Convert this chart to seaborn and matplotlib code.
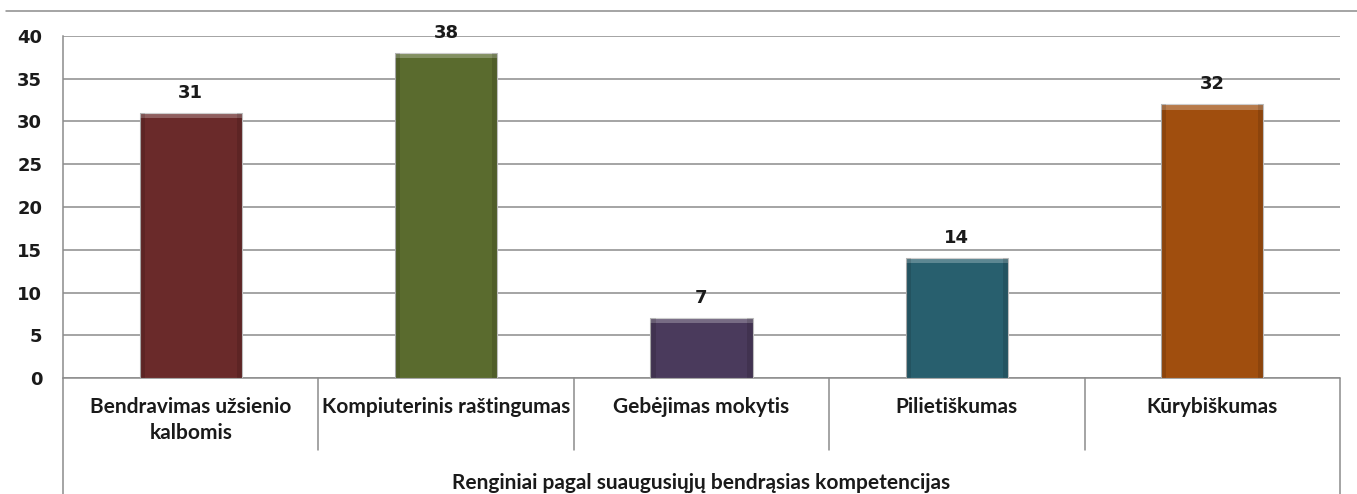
import matplotlib
matplotlib.use("Agg")
import matplotlib.pyplot as plt
import matplotlib.transforms as mtransforms
from matplotlib.lines import Line2D
from matplotlib.patches import Rectangle
import seaborn as sns

categories = ["Bendravimas užsienio\nkalbomis", "Kompiuterinis raštingumas",
              "Gebėjimas mokytis", "Pilietiškumas", "Kūrybiškumas"]
values = [31, 38, 7, 14, 32]
colors = ["#6A2A2A", "#5A6B2E", "#4A3A5C", "#285F6E", "#A04E0E"]
yticks = [0, 5, 10, 15, 20, 25, 30, 35, 40]
xtitle = "Renginiai pagal suaugusiųjų bendrąsias kompetencijas"

sns.set_style("white")
plt.rcParams['font.family'] = ['DejaVu Sans']

W, H = 1357, 494
fig = plt.figure(figsize=(W / 100, H / 100), dpi=100)
x0, x1, ytop, ybot = 63, 1340, 36, 378
ax = fig.add_axes([x0 / W, 1 - ybot / H, (x1 - x0) / W, (ybot - ytop) / H])

sns.barplot(x=categories, y=values, hue=categories, palette=colors,
            width=0.4, saturation=1, legend=False, ax=ax, zorder=3)

grid_c = "#8C8C8C"
ax.set_xlim(-0.5, len(categories) - 0.5)
ax.set_ylim(0, 40)
ax.set_yticks(yticks)
ax.yaxis.grid(True, color=grid_c, linewidth=1.1, zorder=0)
ax.set_axisbelow(True)
for s in ["top", "right", "bottom"]:
    ax.spines[s].set_visible(False)
ax.spines["left"].set_color(grid_c)
ax.spines["left"].set_linewidth(1.1)
ax.tick_params(axis="y", length=6, width=1.1, color=grid_c, pad=9,
               labelsize=13, labelcolor="#1a1a1a")
for t in ax.get_yticklabels():
    t.set_fontweight("bold")
ax.set_xticks([])
ax.set_xlabel("")
ax.set_ylabel("")

# bevel look: lighter top strip and darker sides on each bar
for bar in ax.patches:
    bar.set_edgecolor("#bdbdbd")
    bar.set_linewidth(0.8)
    bx, bw, bh = bar.get_x(), bar.get_width(), bar.get_height()
    ax.add_patch(Rectangle((bx, bh - 0.6), bw, 0.6, color="white",
                           alpha=0.25, zorder=4, linewidth=0))
    ax.add_patch(Rectangle((bx, 0), bw * 0.05, bh, color="black",
                           alpha=0.12, zorder=4, linewidth=0))
    ax.add_patch(Rectangle((bx + bw * 0.95, 0), bw * 0.05, bh, color="black",
                           alpha=0.12, zorder=4, linewidth=0))

for c in ax.containers:
    ax.bar_label(c, padding=8, fontsize=13, fontweight="bold", color="#1a1a1a")

# category separators and labels under the axis
trans = mtransforms.blended_transform_factory(ax.transData, ax.transAxes)
unit = 1 / (ybot - ytop)
ax.plot([-0.5, len(categories) - 0.5], [0, 0], transform=trans,
        color=grid_c, lw=1.1, clip_on=False)
for i in range(len(categories) + 1):
    edge = i == 0 or i == len(categories)
    low = -(H - ybot) * unit if edge else -72 * unit
    ax.plot([i - 0.5, i - 0.5], [0, low], transform=trans,
            color=grid_c, lw=1.1, clip_on=False)
for i, cat in enumerate(categories):
    ax.text(i, -19 * unit, cat, transform=trans, ha="center", va="top",
            fontsize=15, fontweight="bold", family=["Lato", "DejaVu Sans"],
            color="#1a1a1a", linespacing=1.4)
ax.text((len(categories) - 1) / 2, -105 * unit, xtitle, transform=trans,
        ha="center", va="center", fontsize=15, fontweight="bold",
        family=["Lato", "DejaVu Sans"], color="#1a1a1a")

# outer frame line at top
fig.add_artist(Line2D([6 / W, 1], [1 - 11 / H, 1 - 11 / H], color=grid_c, lw=1.1))

fig.savefig("out.png", dpi=100)
